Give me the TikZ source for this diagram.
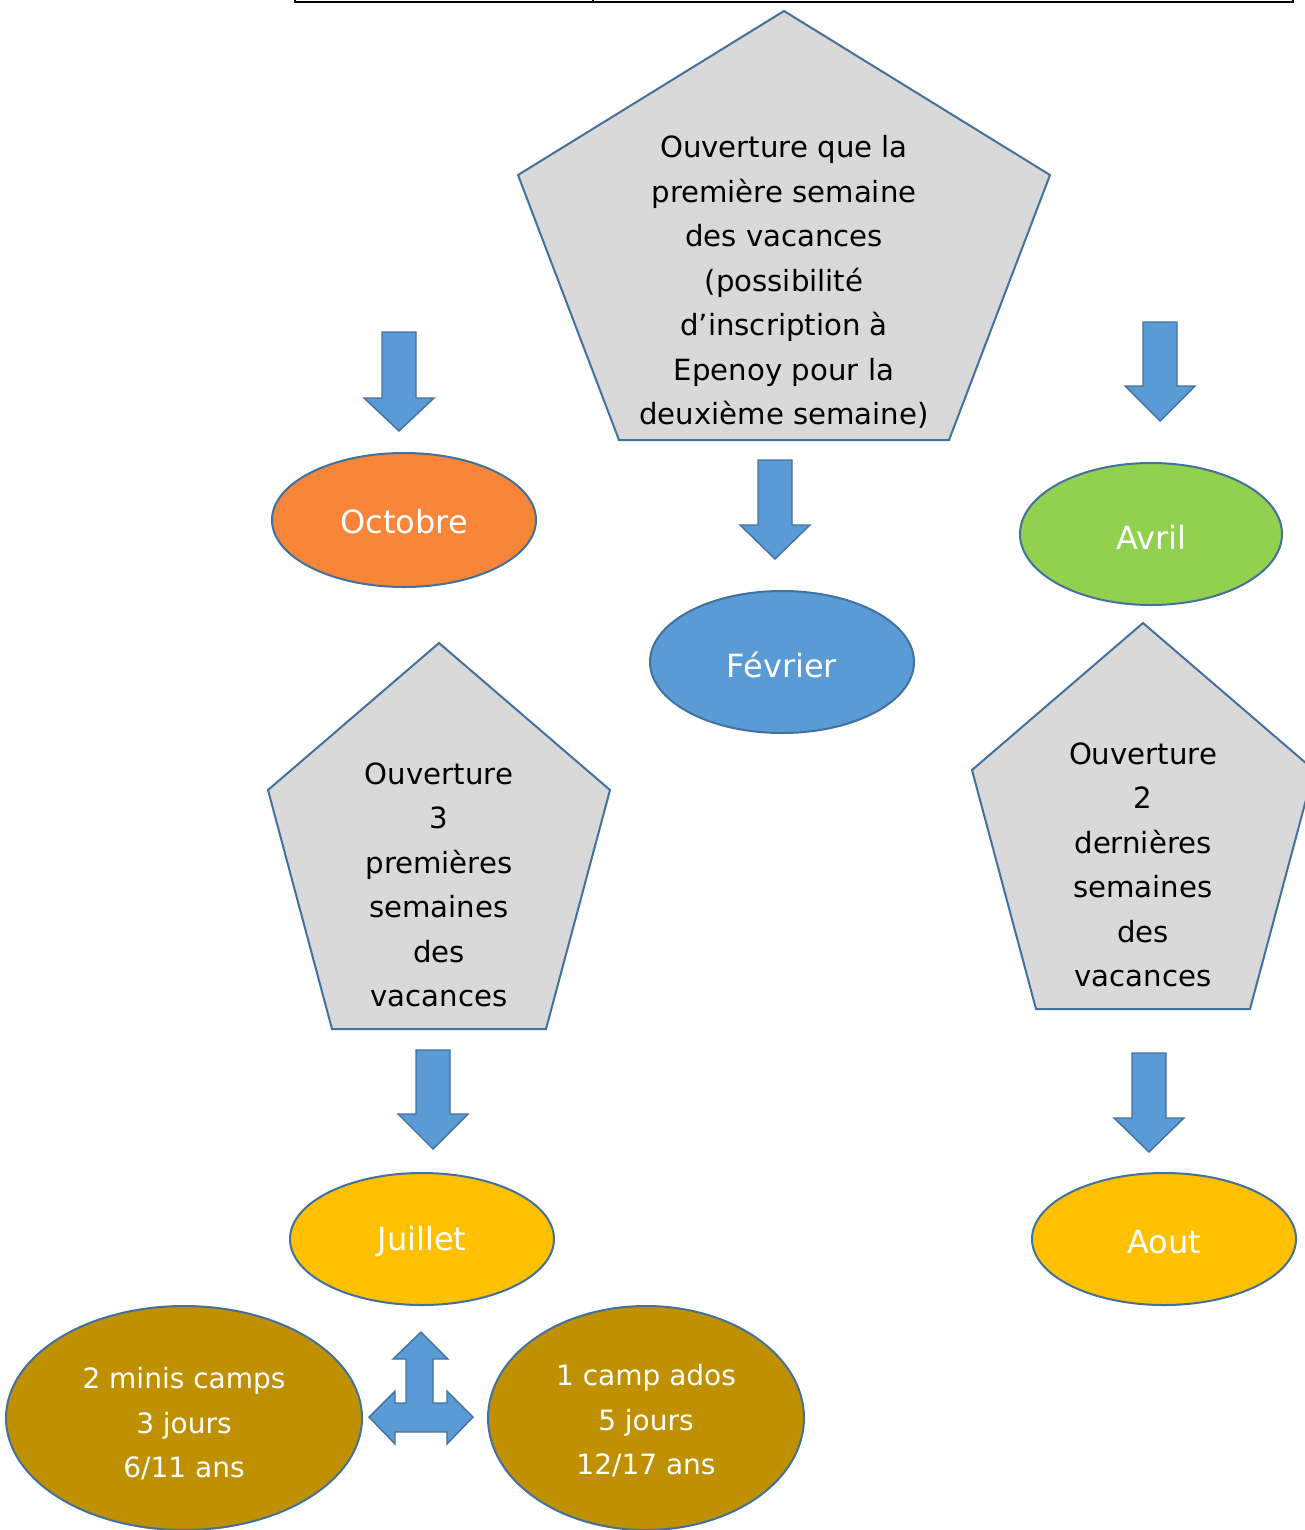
\documentclass[tikz,border=0pt]{standalone}
\usepackage{fontspec}
\setmainfont{DejaVu Sans}
\usetikzlibrary{shapes.geometric}
\definecolor{edge}{HTML}{41719C}
\definecolor{grayfill}{HTML}{D9D9D9}
\definecolor{blueA}{HTML}{5B9BD5}
\definecolor{orangeA}{HTML}{F98539}
\definecolor{greenA}{HTML}{92D050}
\definecolor{goldA}{HTML}{FFC000}
\definecolor{darkgold}{HTML}{BF9000}
\tikzset{
  pent/.style={draw=edge, fill=grayfill, line width=1pt, line join=miter},
  ptext/.style={align=center, inner sep=0pt, font=\fontsize{14.6}{22.25}\selectfont},
  oval/.style={ellipse, draw=edge, line width=1pt, inner sep=0pt},
  ovaltext/.style={text=white, align=center, inner sep=0pt, font=\fontsize{14}{22.25}\selectfont},
  bigword/.style={text=white, font=\fontsize{16}{20}\selectfont},
  blockarrow/.style={draw=edge, fill=blueA, line width=0.7pt, line join=miter},
}
\begin{document}
\begin{tikzpicture}[x=0.5pt, y=-0.5pt]
\useasboundingbox (0,0) rectangle (1305,1530);
\clip (0,0) rectangle (1305,1530);
% table fragment at top
\draw[line width=1pt] (295,2) -- (1293,2);
\draw[line width=0.8pt] (295,-2) -- (295,3) (593,-2) -- (593,3) (1293,-2) -- (1293,3);

% top pentagon
\draw[pent] (784,11) -- (1050,175) -- (949,440) -- (619,440) -- (518,175) -- cycle;
\node[ptext] (ptop) at (784,282) {Ouverture que la\\première semaine\\des vacances\\(possibilité\\d’inscription à\\Epenoy pour la\\deuxième semaine)};

% left pentagon
\draw[pent] (439,643) -- (610,790) -- (546,1029) -- (332,1029) -- (268,790) -- cycle;
\node[ptext] (pleft) at (439,885) {Ouverture\\3\\premières\\semaines\\des\\vacances};

% right pentagon
\draw[pent] (1143,623) -- (1314,770) -- (1250,1009) -- (1036,1009) -- (972,770) -- cycle;
\node[ptext] (pright) at (1143,865) {Ouverture\\2\\dernières\\semaines\\des\\vacances};

% ellipses
\node[oval, fill=orangeA, minimum width=132pt, minimum height=67pt] (oct) at (404,520) {};
\node[bigword] (octT) at (404,522) {Octobre};
\node[oval, fill=blueA, minimum width=132pt, minimum height=71pt] (fev) at (782,662) {};
\node[bigword] (fevT) at (782,665) {Février};
\node[oval, fill=greenA, minimum width=131pt, minimum height=71pt] (avr) at (1151,534) {};
\node[bigword] (avrT) at (1151,537) {Avril};
\node[oval, fill=goldA, minimum width=132pt, minimum height=66pt] (jui) at (422,1239) {};
\node[bigword] (juiT) at (422,1242) {Juillet};
\node[oval, fill=goldA, minimum width=132pt, minimum height=66pt] (aou) at (1164,1239) {};
\node[bigword] (aouT) at (1164,1242) {Aout};
\node[oval, fill=darkgold, minimum width=178pt, minimum height=112pt] (mini) at (184,1418) {};
\node[ovaltext] (miniT) at (184,1424) {2 minis camps\\3 jours\\6/11 ans};
\node[oval, fill=darkgold, minimum width=158pt, minimum height=112pt] (ados) at (646,1418) {};
\node[ovaltext] (adosT) at (646,1421) {1 camp ados\\5 jours\\12/17 ans};

% down block arrows
\foreach \cx/\ty/\by/\tip in {399/332/398/431, 1160/322/386/421, 775/460/525/559, 433/1050/1114/1149, 1149/1053/1118/1152}{
  \draw[blockarrow] (\cx-17,\ty) -- (\cx+17,\ty) -- (\cx+17,\by) -- (\cx+35,\by) -- (\cx,\tip)
    -- (\cx-35,\by) -- (\cx-17,\by) -- cycle;
}

% left-right-up arrow
\draw[blockarrow] (421,1332) -- (448,1359) -- (433,1359) -- (433,1403) -- (447,1403) -- (447,1391)
  -- (473,1417) -- (447,1444) -- (447,1432) -- (395,1432) -- (395,1444) -- (369,1417)
  -- (395,1391) -- (395,1403) -- (406,1403) -- (406,1359) -- (393,1359) -- cycle;
\end{tikzpicture}
\end{document}
